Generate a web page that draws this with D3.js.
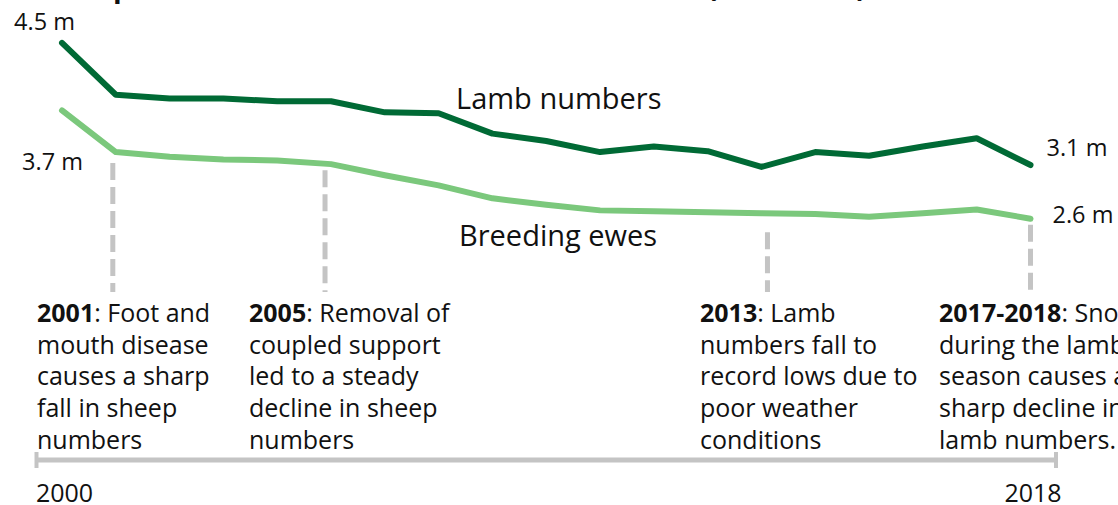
<!DOCTYPE html>
<html>
<head>
<meta charset="utf-8">
<script src="https://cdn.jsdelivr.net/npm/d3@7"></script>
<style>
  body { margin: 0; background: #fff; }
  svg { display: block; }
  text { font-family: "Open Sans", "Noto Sans", sans-serif; fill: #111; }
</style>
</head>
<body>
<svg id="chart" width="1118" height="505"></svg>
<script>
// Sheep numbers, millions, June census
const years = [2000, 2001, 2002, 2003, 2004, 2005, 2006, 2007, 2008, 2009,
               2010, 2011, 2012, 2013, 2014, 2015, 2016, 2017, 2018];
const lambs = [4.46, 3.90, 3.86, 3.86, 3.83, 3.83, 3.71, 3.70, 3.48, 3.40,
               3.28, 3.34, 3.29, 3.12, 3.28, 3.24, 3.34, 3.43, 3.14];
const ewes  = [3.73, 3.28, 3.23, 3.20, 3.19, 3.15, 3.03, 2.92, 2.78, 2.71,
               2.65, 2.64, 2.63, 2.62, 2.61, 2.58, 2.62, 2.66, 2.56];
const seriesNames = ["Lamb numbers", "Breeding ewes"];
const axisYears = [2000, 2018];
const titleText = "Sheep and lamb numbers in Scotland declined (2000-2018)";

// Key events along the timeline
const eventYears = [2001, 2005, 2013, 2018];
const eventLeads = ["2001", "2005", "2013", "2017-2018"];
const eventLines = [
  [": Foot and", "mouth disease", "causes a sharp", "fall in sheep", "numbers"],
  [": Removal of", "coupled support", "led to a steady", "decline in sheep", "numbers"],
  [": Lamb", "numbers fall to", "record lows due to", "poor weather", "conditions"],
  [": Snow", "during the lambing", "season causes a", "sharp decline in", "lamb numbers."]
];

const svg = d3.select("#chart");
const darkGreen = "#006a35";
const lightGreen = "#7bc87c";
const grey = "#c4c4c4";

const x = d3.scaleLinear().domain([2000, 2018]).range([62, 1030.5]);
const y = d3.scaleLinear().domain([0, 5]).range([455.5, -7]);

// Title (runs off the top edge)
svg.append("text")
  .attr("x", 45).attr("y", -3)
  .style("font-weight", "bold").style("font-size", "28.5px")
  .text(titleText);

// Timeline axis
const axisY = 460;
const axis = d3.axisBottom(x).tickValues(axisYears).tickSize(0).tickPadding(24)
  .tickFormat(d3.format("d"));
const gAxis = svg.append("g").attr("transform", `translate(0,${axisY})`).call(axis);
gAxis.select(".domain").remove();
gAxis.selectAll(".tick text")
  .attr("dx", 2)
  .style("font-family", '"Open Sans", "Noto Sans", sans-serif')
  .style("font-size", "25px").attr("fill", "#111");
const x0 = x(2000) - 27, x1 = x(2018) + 27;
gAxis.append("line").attr("x1", x0).attr("x2", x1).attr("y1", 0).attr("y2", 0)
  .attr("stroke", grey).attr("stroke-width", 5);
[x0 + 1.5, x1 - 1.5].forEach(px => {
  gAxis.append("line").attr("x1", px).attr("x2", px).attr("y1", -8).attr("y2", 8)
    .attr("stroke", grey).attr("stroke-width", 4);
});

// Dashed event markers
const markerShift = [-3, -6, 6, 0];
const markerGap = [11, 6, 19, 6];
const markerBottom = 292;
eventYears.forEach((yr, i) => {
  const v = ewes[years.indexOf(yr)];
  const px = x(yr) + markerShift[i];
  svg.append("line")
    .attr("x1", px).attr("x2", px)
    .attr("y1", y(v) + markerGap[i]).attr("y2", markerBottom)
    .attr("stroke", grey).attr("stroke-width", 5)
    .attr("stroke-dasharray", "17 7");
});

// Event text blocks
const eventTextX = [37, 249, 700, 939];
eventYears.forEach((yr, i) => {
  const t = svg.append("text").attr("x", eventTextX[i]).attr("y", 322)
    .style("font-size", "25px");
  eventLines[i].forEach((ln, j) => {
    if (j === 0) {
      t.append("tspan").attr("x", eventTextX[i]).style("font-weight", "bold").text(eventLeads[i]);
      t.append("tspan").text(ln);
    } else {
      t.append("tspan").attr("x", eventTextX[i]).attr("dy", 31.7).text(ln);
    }
  });
});

// Series lines
const line = d3.line().x((d, i) => x(years[i])).y(d => y(d));
[[ewes, lightGreen], [lambs, darkGreen]].forEach(([vals, col]) => {
  svg.append("path").datum(vals)
    .attr("d", line)
    .attr("fill", "none").attr("stroke", col).attr("stroke-width", 6)
    .attr("stroke-linecap", "round").attr("stroke-linejoin", "round");
});

// Start / end value labels
const fmt = v => d3.format(".1f")(v) + " m";
const last = years.length - 1;
const valueSize = "23.5px";
svg.append("text").attr("x", x(years[0]) + 13).attr("y", y(lambs[0]) - 13)
  .attr("text-anchor", "end").style("font-size", valueSize).text(fmt(lambs[0]));
svg.append("text").attr("x", x(years[0]) + 21).attr("y", y(ewes[0]) + 60)
  .attr("text-anchor", "end").style("font-size", valueSize).text(fmt(ewes[0]));
svg.append("text").attr("x", x(years[last]) + 16).attr("y", y(lambs[last]) - 9)
  .style("font-size", valueSize).text(fmt(lambs[last]));
svg.append("text").attr("x", x(years[last]) + 22).attr("y", y(ewes[last]) + 4)
  .style("font-size", valueSize).text(fmt(ewes[last]));

// Series name labels
svg.append("text").attr("x", 456).attr("y", 109).style("font-size", "29px").text(seriesNames[0]);
svg.append("text").attr("x", 459).attr("y", 246).style("font-size", "29px").text(seriesNames[1]);
</script>
</body>
</html>
